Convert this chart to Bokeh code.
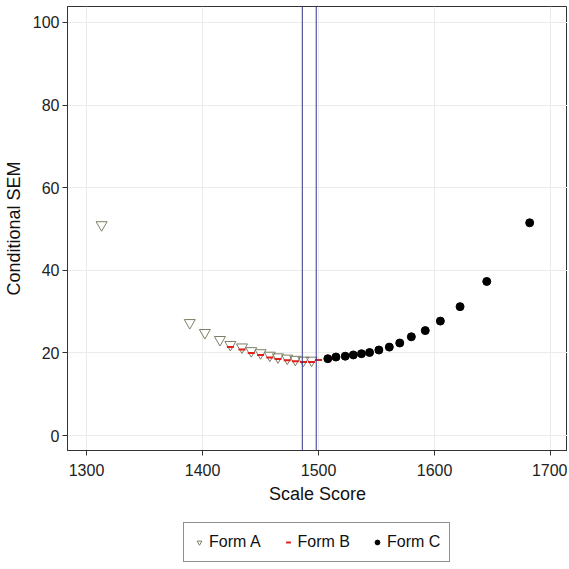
from bokeh.plotting import figure
from bokeh.layouts import column
from bokeh.models import Legend, LegendItem, Span, Range1d, FixedTicker
from bokeh.embed import file_html
from bokeh.resources import INLINE

# Data
a_x = [1313, 1389, 1402, 1415, 1424, 1434, 1442, 1450, 1458, 1465, 1473, 1480, 1487, 1494]
a_y = [51.0, 27.3, 24.9, 23.2, 22.0, 21.4, 20.5, 20.0, 19.4, 19.0, 18.7, 18.4, 18.2, 18.2]
b_x = [1424, 1434, 1442, 1450, 1458, 1465, 1473, 1480, 1487, 1494, 1500, 1508, 1515, 1523, 1530, 1537, 1544]
b_y = [21.4, 20.8, 20.0, 19.5, 18.9, 18.5, 18.2, 18.0, 17.8, 17.8, 18.3, 18.4, 18.8, 19.1, 19.4, 19.7, 20.0]
c_x = [1508, 1515, 1523, 1530, 1537, 1544, 1552, 1561, 1570, 1580, 1592, 1605, 1622, 1645, 1682]
c_y = [18.6, 19.0, 19.2, 19.5, 19.8, 20.1, 20.7, 21.4, 22.4, 23.9, 25.4, 27.7, 31.2, 37.3, 51.5]
cut_lines = [1486, 1498]
x_ticks = [1300, 1400, 1500, 1600, 1700]
y_ticks = [0, 20, 40, 60, 80, 100]
series_names = ["Form A", "Form B", "Form C"]

FONT = "Liberation Sans"
A_STYLE = dict(marker="inverted_triangle", size=11, fill_color=None, line_color="#7E7E66", line_width=1)
B_STYLE = dict(marker="dash", size=7, line_color="#E0201B", line_width=2)
C_STYLE = dict(marker="circle", size=8, fill_color="black", line_color="black")

p = figure(frame_width=500, frame_height=444, output_backend="svg", toolbar_location=None,
           x_range=Range1d(1283.6, 1714.6), y_range=Range1d(-3.63, 103.87),
           min_border_left=58, min_border_right=0, min_border_top=6,
           min_border_bottom=0)

p.background_fill_color = "white"
p.border_fill_color = "white"
p.outline_line_color = "#333333"
p.outline_line_width = 1

for g in (p.xgrid, p.ygrid):
    g.grid_line_color = "#EBEBEB"
    g.grid_line_width = 1

p.xaxis.ticker = FixedTicker(ticks=x_ticks)
p.yaxis.ticker = FixedTicker(ticks=y_ticks)
for ax in (p.xaxis, p.yaxis):
    ax.axis_line_color = "#333333"
    ax.major_tick_line_color = "#333333"
    ax.major_tick_out = 5
    ax.major_tick_in = 0
    ax.minor_tick_line_color = None
    ax.major_label_text_font = FONT
    ax.major_label_text_font_size = "16px"
    ax.major_label_text_color = "#222222"
    ax.axis_label_text_font = FONT
    ax.axis_label_text_font_size = "18px"
    ax.axis_label_text_font_style = "normal"
    ax.axis_label_text_color = "#111111"
p.xaxis.axis_label = "Scale Score"
p.yaxis.axis_label = "Conditional SEM"
p.xaxis.major_label_standoff = 8
p.xaxis.axis_label_standoff = 5
p.yaxis.major_label_standoff = 3
p.yaxis.axis_label_standoff = 6

for xv in cut_lines:
    p.add_layout(Span(location=xv, dimension="height", line_color="#34348C", line_width=1))

p.scatter(a_x, a_y, **A_STYLE)
p.scatter(b_x, b_y, **B_STYLE)
p.scatter(c_x, c_y, **C_STYLE)

# Legend strip below the chart (placeholder renderers carry only the styles)
nan = float("nan")
lg = figure(width=558, height=60, output_backend="svg", toolbar_location=None,
            x_range=Range1d(0, 1), y_range=Range1d(0, 1),
            min_border_left=0, min_border_right=0, min_border_top=0, min_border_bottom=0)
lg.axis.visible = False
lg.grid.visible = False
lg.outline_line_color = None
lg.border_fill_color = "white"
la = lg.scatter([nan], [nan], **A_STYLE)
lb = lg.scatter([nan], [nan], **B_STYLE)
lc = lg.scatter([nan], [nan], **C_STYLE)

legend = Legend(items=[LegendItem(label=series_names[0], renderers=[la]),
                       LegendItem(label=series_names[1], renderers=[lb]),
                       LegendItem(label=series_names[2], renderers=[lc])],
                orientation="horizontal", location=(116, 4))
legend.label_text_font = FONT
legend.label_text_font_size = "16px"
legend.label_text_color = "#111111"
legend.border_line_color = "#222222"
legend.border_line_width = 1
legend.glyph_width = 12
legend.label_standoff = 4
legend.spacing = 21
legend.padding = 9
legend.margin = 0
lg.add_layout(legend)

layout = column(p, lg, spacing=0)
open("out.html", "w").write(file_html(layout, INLINE))
